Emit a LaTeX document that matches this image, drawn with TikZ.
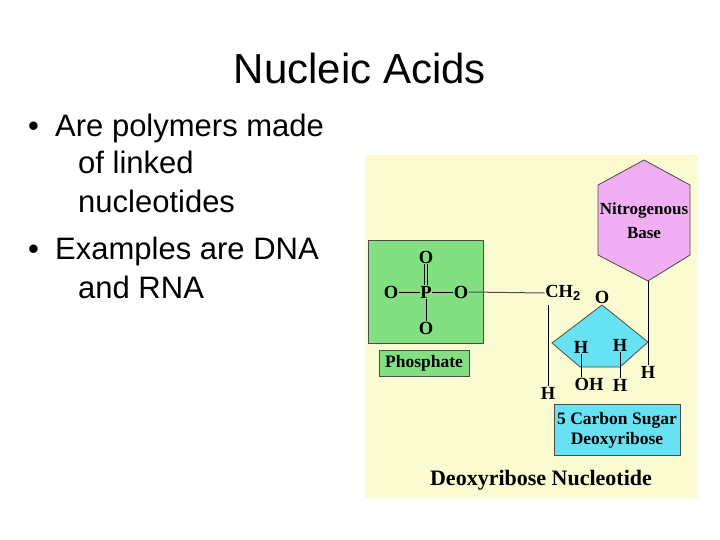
\documentclass[tikz,border=0pt]{standalone}
\usepackage{fontspec}
\setmainfont{Liberation Sans}
\newfontfamily\tms{Liberation Serif}
\begin{document}
\begin{tikzpicture}[x=1pt,y=-1pt,
  chem/.style={font=\tms\bfseries\fontsize{18.5}{20}\selectfont, inner sep=0.5pt},
  lbl/.style={font=\tms\bfseries\fontsize{17.5}{20}\selectfont, align=center},
  bul/.style={font=\fontsize{31}{36}\selectfont, anchor=base west, inner sep=0pt}]
\useasboundingbox (0,0) rectangle (720,540);
\definecolor{bgy}{HTML}{FBFBD2}
\definecolor{grn}{HTML}{82E082}
\definecolor{pnk}{HTML}{F2AEF2}
\definecolor{cyn}{HTML}{66E2F2}
\node[font=\fontsize{42}{46}\selectfont] (title) at (360,68) {Nucleic Acids};
\node[bul] (b1) at (28,137) {\textbullet};
\node[bul] (l1) at (55,137) {Are polymers made};
\node[bul] (l2) at (78,174) {of linked};
\node[bul] (l3) at (78,213) {nucleotides};
\node[bul] (b2) at (28,259) {\textbullet};
\node[bul] (l4) at (55,259) {Examples are DNA};
\node[bul] (l5) at (78,298) {and RNA};
\fill[bgy] (365,155) rectangle (698,498);
\draw[fill=grn, line width=0.8pt, draw=black!70] (368,240) rectangle (483,343);
\node[draw=black!70, fill=grn, lbl, minimum width=90pt, minimum height=26pt, inner sep=0pt] (phl) at (424,363) {Phosphate};
\node[chem] (o1) at (426,257) {O};
\node[chem] (p) at (426,292) {P};
\node[chem] (o2) at (391,292) {O};
\node[chem] (o3) at (461,292) {O};
\node[chem] (o4) at (426,328) {O};
\draw[line width=1pt] ([xshift=-1.5pt]o1.south) -- ([xshift=-1.5pt]p.north);
\draw[line width=1pt] ([xshift=1.5pt]o1.south) -- ([xshift=1.5pt]p.north);
\draw[line width=1pt] (o2) -- (p) (p) -- (o3) (p) -- (o4);
\node[chem] (ch2) at (563,293) {CH$_{\mathbf 2}$};
\draw[line width=1pt, black!70] (o3.east) -- (ch2.west);
\draw[fill=pnk, draw=black!70, line width=0.8pt] (644,160) -- (690,185) -- (690,255) -- (648,281) -- (598,255) -- (598,185) -- cycle;
\node[lbl, font=\tms\bfseries\fontsize{17}{24}\selectfont] (base) at (644,221) {Nitrogenous\\Base};
\coordinate (hb) at (648,281);
\draw[fill=cyn, draw=black!70, line width=0.8pt] (602,305) -- (648,342) -- (620,367) -- (580,367) -- (552,343) -- cycle;
\node[chem] (os) at (602,297) {O};
\node[chem] (h1) at (581,347) {H};
\node[chem] (h2) at (620,345) {H};
\node[chem] (oh) at (589,384) {OH};
\node[chem] (h3) at (620,385) {H};
\node[chem] (h4) at (648,372) {H};
\node[chem] (h5) at (548,393) {H};
\draw[line width=1pt] (hb) -- (h4.north);
\draw[line width=1pt] (548,305) -- (h5.north);
\draw[line width=1pt] (h1.south) -- ([xshift=-8pt]oh.north);
\draw[line width=1pt] (h2.south) -- (h3.north);
\node[draw=black!70, fill=cyn, lbl, minimum width=126pt, minimum height=51pt, inner sep=0pt] (sl) at (617,430) {5 Carbon Sugar\\Deoxyribose};
\node[font=\tms\bfseries\fontsize{22}{24}\selectfont] (cap) at (541,480) {Deoxyribose Nucleotide};
\end{tikzpicture}
\end{document}
